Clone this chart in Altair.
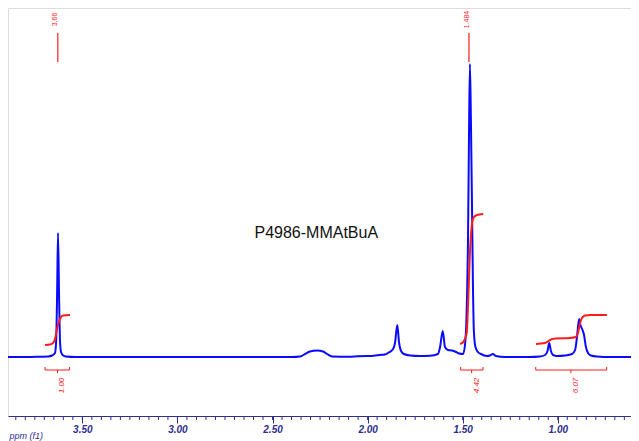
import altair as alt
import pandas as pd

# ---- spectrum trace (ppm, intensity) ----
spec_ppm = [3.891, 3.80, 3.72, 3.680, 3.659, 3.644, 3.638, 3.633, 3.628, 3.622, 3.617, 3.612,
            3.601, 3.586, 3.538, 3.00, 2.40, 2.355, 2.329, 2.303, 2.266, 2.234, 2.213, 2.187,
            2.10, 2.05, 2.00, 1.987, 1.96, 1.935, 1.91, 1.893, 1.866, 1.856, 1.844, 1.835,
            1.824, 1.809, 1.777, 1.725, 1.672, 1.630, 1.619, 1.605, 1.593, 1.577, 1.556,
            1.535, 1.519, 1.498, 1.488, 1.480, 1.472, 1.467, 1.462, 1.457, 1.451, 1.446,
            1.441, 1.433, 1.420, 1.404, 1.373, 1.357, 1.341, 1.326, 1.278, 1.15, 1.094,
            1.067, 1.054, 1.045, 1.036, 1.025, 1.004, 0.962, 0.925, 0.909, 0.899, 0.888,
            0.881, 0.870, 0.862, 0.852, 0.841, 0.826, 0.794, 0.726, 0.615]
spec_int = [0, 0, 0.3, 0.5, 1.5, 4, 15, 60, 124, 55, 14, 5,
            1.5, 0.5, 0, 0, 0, 0.5, 3, 5.5, 6.5, 5.5, 3, 0.5,
            0.3, 0.8, 1.0, 1, 1.5, 2, 2.5, 4, 8, 14, 32, 15,
            6, 3, 1.5, 1, 1.2, 3, 10, 26, 10, 7, 6.5,
            5, 3.5, 3, 12, 40, 120, 220, 293, 240, 150, 70,
            25, 10, 5, 3, 1, 1.5, 3, 1, 0, 0, 0.5,
            2, 6, 14, 6, 2, 1, 1.5, 3, 7, 20, 38,
            32, 27, 22, 10, 4, 1.5, 0.5, 0, 0]

# ---- integral curves ----
int1_ppm = [3.696, 3.670, 3.654, 3.644, 3.633, 3.622, 3.612, 3.601, 3.565]
int1_val = [12, 12.5, 14, 18, 28, 36, 40, 41.5, 42]
int2_ppm = [1.514, 1.497, 1.479, 1.471, 1.462, 1.453, 1.444, 1.426, 1.392]
int2_val = [13, 15, 24, 57, 104, 130, 139, 142, 143]
int3_ppm = [1.115, 1.067, 1.052, 1.036, 1.010, 0.936, 0.905, 0.894, 0.884, 0.873, 0.857, 0.831, 0.742]
int3_val = [13, 14, 15.5, 17.5, 18.5, 19, 20, 24, 33, 39, 41.5, 42, 42]

# ---- integral brackets and values ----
br_start = [3.696, 1.511, 1.116]
br_end = [3.568, 1.393, 0.743]
br_mid = [3.631, 1.453, 0.931]
br_label_ppm = [3.607, 1.426, 0.905]
br_labels = ["1.00", "4.42", "6.07"]

# ---- peak labels ----
pk_line_ppm = [3.629, 1.467]
pk_text_ppm = [3.644, 1.478]
pk_labels = ["3.66", "1.484"]

title_text = ["P4986-MMAtBuA"]
title_ppm = [2.27]
title_int = [124]

major_ticks = [3.50, 3.00, 2.50, 2.00, 1.50, 1.00]
minor_ticks = [round(0.65 + 0.05 * i, 2) for i in range(65)]

# ---- geometry in intensity units ----
BR_Y = -13
BR_END_Y = -10
BR_MID_Y = -16
BR_TXT_Y = -28.5
PK_LINE_TOP = 324
PK_LINE_BOT = 295
PK_TXT_Y = 337.5
AX_Y = -59
MINOR_Y = -63

BLUE = "#0a0aff"
RED = "#ff1a1a"
AXC = "#2e2e8f"

xscale = alt.Scale(domain=[0.615, 3.891], reverse=True, nice=False, zero=False)
yscale = alt.Scale(domain=[-59, 349], nice=False, zero=False)

major_axis = alt.Axis(values=major_ticks, format=".2f", orient="bottom", grid=False,
                      tickSize=7, tickColor=AXC, domainColor=AXC, domainWidth=1.2,
                      labelFont="Liberation Sans", labelFontStyle="italic", labelFontSize=10,
                      labelFontWeight="bold", labelColor=AXC, labelPadding=1, labelFlush=False,
                      title="ppm (f1)", titleFont="Liberation Sans", titleFontStyle="italic",
                      titleFontWeight="normal", titleFontSize=9, titleColor=AXC,
                      titleX=1, titleY=19, titleAlign="left", titleBaseline="middle",
                      titleAngle=0, aria=False)

spec_df = pd.DataFrame({"ppm": spec_ppm, "v": spec_int})
spec = alt.Chart(spec_df).mark_line(color=BLUE, strokeWidth=2, interpolate="monotone", aria=False).encode(
    x=alt.X("ppm:Q", scale=xscale, axis=major_axis),
    y=alt.Y("v:Q", scale=yscale, axis=None),
)

minor = alt.Chart(pd.DataFrame({"ppm": minor_ticks})).mark_rule(color=AXC, strokeWidth=1, aria=False).encode(
    x=alt.X("ppm:Q", scale=xscale),
    y=alt.datum(AX_Y, scale=yscale),
    y2=alt.datum(MINOR_Y),
)

int_rows = ([{"ppm": p, "v": v, "g": "a"} for p, v in zip(int1_ppm, int1_val)] +
            [{"ppm": p, "v": v, "g": "b"} for p, v in zip(int2_ppm, int2_val)] +
            [{"ppm": p, "v": v, "g": "c"} for p, v in zip(int3_ppm, int3_val)])
integ = alt.Chart(pd.DataFrame(int_rows)).mark_line(color=RED, strokeWidth=2, interpolate="monotone", aria=False).encode(
    x=alt.X("ppm:Q", scale=xscale),
    y=alt.Y("v:Q", scale=yscale),
    detail="g:N",
)

br_df = pd.DataFrame({"s": br_start, "e": br_end, "m": br_mid, "lp": br_label_ppm, "t": br_labels})
br_h = alt.Chart(br_df).mark_rule(color=RED, strokeWidth=1, aria=False).encode(
    x=alt.X("s:Q", scale=xscale), x2="e:Q", y=alt.datum(BR_Y, scale=yscale))
br_l = alt.Chart(br_df).mark_rule(color=RED, strokeWidth=1, aria=False).encode(
    x=alt.X("s:Q", scale=xscale), y=alt.datum(BR_Y, scale=yscale), y2=alt.datum(BR_END_Y))
br_r = alt.Chart(br_df).mark_rule(color=RED, strokeWidth=1, aria=False).encode(
    x=alt.X("e:Q", scale=xscale), y=alt.datum(BR_Y, scale=yscale), y2=alt.datum(BR_END_Y))
br_m = alt.Chart(br_df).mark_rule(color=RED, strokeWidth=1, aria=False).encode(
    x=alt.X("m:Q", scale=xscale), y=alt.datum(BR_Y, scale=yscale), y2=alt.datum(BR_MID_Y))
br_t = alt.Chart(br_df).mark_text(color=RED, angle=270, fontSize=8, font="Liberation Sans",
                                  fontStyle="italic", align="center", baseline="middle", aria=False).encode(
    x=alt.X("lp:Q", scale=xscale), y=alt.datum(BR_TXT_Y, scale=yscale), text="t:N")

pk_df = pd.DataFrame({"lp": pk_line_ppm, "tp": pk_text_ppm, "t": pk_labels})
pk_line = alt.Chart(pk_df).mark_rule(color=RED, strokeWidth=1.2, aria=False).encode(
    x=alt.X("lp:Q", scale=xscale), y=alt.datum(PK_LINE_TOP, scale=yscale), y2=alt.datum(PK_LINE_BOT))
pk_text = alt.Chart(pk_df).mark_text(color=RED, angle=270, fontSize=7, font="Liberation Sans",
                                     align="center", baseline="middle", aria=False).encode(
    x=alt.X("tp:Q", scale=xscale), y=alt.datum(PK_TXT_Y, scale=yscale), text="t:N")

title_df = pd.DataFrame({"ppm": title_ppm, "v": title_int, "t": title_text})
title = alt.Chart(title_df).mark_text(color="#111111", fontSize=16, font="Liberation Sans",
                                      align="center", baseline="middle", aria=False).encode(
    x=alt.X("ppm:Q", scale=xscale), y=alt.Y("v:Q", scale=yscale), text="t:N")

chart = alt.layer(spec, minor, integ, br_h, br_l, br_r, br_m, br_t, pk_line, pk_text, title).properties(
    width=623, height=408,
    padding={"left": 0, "top": 0, "right": 0, "bottom": 26},
    autosize=alt.AutoSizeParams(type="none"),
).configure_view(stroke=None).configure(background="white")

chart.save("out.html", embed_options={"renderer": "svg", "actions": False})
